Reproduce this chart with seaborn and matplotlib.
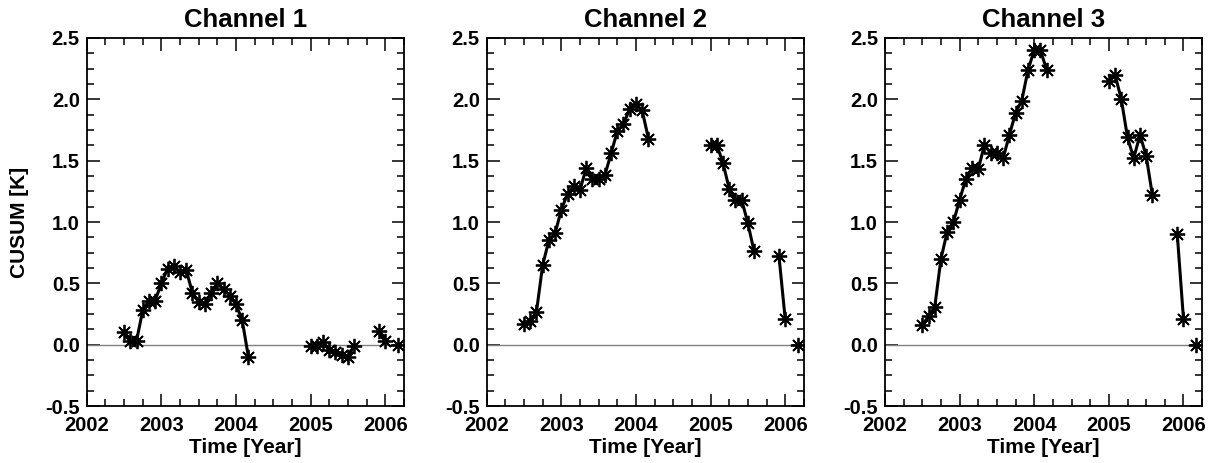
import numpy as np
import pandas as pd
import matplotlib
matplotlib.use("Agg")
import matplotlib.pyplot as plt
from matplotlib.ticker import MultipleLocator
import seaborn as sns

# ---- data ----
times = [2002.500, 2002.583, 2002.667, 2002.750, 2002.833, 2002.917, 2003.000,
         2003.083, 2003.167, 2003.250, 2003.333, 2003.417, 2003.500, 2003.583,
         2003.667, 2003.750, 2003.833, 2003.917, 2004.000, 2004.083, 2004.167,
         2005.000, 2005.083, 2005.167, 2005.250, 2005.333, 2005.417, 2005.500, 2005.583,
         2005.917, 2006.000,
         2006.167]
segments = [0] * 21 + [1] * 8 + [2] * 2 + [3]

ch1 = [0.10, 0.03, 0.03, 0.28, 0.36, 0.36, 0.50, 0.62, 0.64, 0.59, 0.61, 0.42,
       0.35, 0.33, 0.42, 0.50, 0.45, 0.40, 0.33, 0.20, -0.10,
       -0.01, -0.01, 0.02, -0.04, -0.06, -0.08, -0.10, -0.01,
       0.11, 0.03,
       0.00]
ch2 = [0.17, 0.19, 0.27, 0.65, 0.85, 0.91, 1.10, 1.23, 1.29, 1.26, 1.44, 1.35,
       1.35, 1.38, 1.56, 1.74, 1.80, 1.92, 1.96, 1.91, 1.68,
       1.63, 1.63, 1.48, 1.27, 1.18, 1.18, 0.99, 0.76,
       0.72, 0.21,
       0.00]
ch3 = [0.16, 0.23, 0.31, 0.70, 0.92, 1.00, 1.18, 1.35, 1.44, 1.43, 1.63, 1.56,
       1.56, 1.52, 1.71, 1.89, 1.99, 2.24, 2.40, 2.40, 2.24,
       2.15, 2.20, 2.00, 1.69, 1.52, 1.71, 1.54, 1.22,
       0.90, 0.21,
       0.00]
channels = ["Channel 1", "Channel 2", "Channel 3"]
series = [ch1, ch2, ch3]
xticks = [2002, 2003, 2004, 2005, 2006]
yticks = [-0.5, 0.0, 0.5, 1.0, 1.5, 2.0, 2.5]

sns.set_theme(style="white")
plt.rcParams['font.family'] = ['Liberation Sans', 'DejaVu Sans']
plt.rcParams['font.weight'] = 'bold'
plt.rcParams['text.color'] = 'black'
plt.rcParams['axes.labelcolor'] = 'black'
plt.rcParams['xtick.color'] = 'black'
plt.rcParams['ytick.color'] = 'black'

fig = plt.figure(figsize=(12.15, 4.63), dpi=100)
lefts = [0.0714, 0.4006, 0.7284]
axw, axb, axh = 0.261, 0.123, 0.795

for i, (name, vals) in enumerate(zip(channels, series)):
    ax = fig.add_axes([lefts[i], axb, axw, axh])
    df = pd.DataFrame({"year": times, "cusum": vals, "seg": segments})
    ax.axhline(0.0, color="#808080", lw=1.0, zorder=1)
    sns.lineplot(data=df, x="year", y="cusum", units="seg", estimator=None,
                 color="black", lw=2.2, marker=(8, 2, 0), markersize=11,
                 markeredgewidth=1.3, markeredgecolor="black", ax=ax,
                 legend=False, zorder=3, sort=False)
    ax.set_xlim(2002.0, 2006.25)
    ax.set_ylim(-0.5, 2.5)
    ax.set_xticks(xticks)
    ax.set_xticklabels([str(t) for t in xticks])
    ax.set_yticks(yticks)
    ax.set_yticklabels([f"{t:.1f}" for t in yticks])
    ax.xaxis.set_minor_locator(MultipleLocator(0.25))
    ax.yaxis.set_minor_locator(MultipleLocator(0.125))
    ax.tick_params(which="both", direction="in", top=True, right=True,
                   bottom=True, left=True, colors="black", labelcolor="black",
                   width=1.1, labelsize=14.5)
    ax.tick_params(which="major", length=9)
    ax.tick_params(which="minor", length=5)
    ax.tick_params(axis="x", which="major", pad=7)
    ax.tick_params(axis="y", which="major", pad=5)
    for lab in ax.get_xticklabels() + ax.get_yticklabels():
        lab.set_fontweight("bold")
        lab.set_color("black")
    for sp in ax.spines.values():
        sp.set_visible(True)
        sp.set_color("black")
        sp.set_linewidth(1.3)
    ax.set_title(name, fontsize=18.5, fontweight="bold", pad=8, color="black")
    ax.set_xlabel("Time [Year]", fontsize=15, fontweight="bold", labelpad=2,
                  color="black")
    if i == 0:
        ax.set_ylabel("CUSUM [K]", fontsize=15, fontweight="bold", labelpad=12,
                      color="black")
    else:
        ax.set_ylabel("")
    ax.grid(False)

fig.savefig("out.png", dpi=100, facecolor="white")
